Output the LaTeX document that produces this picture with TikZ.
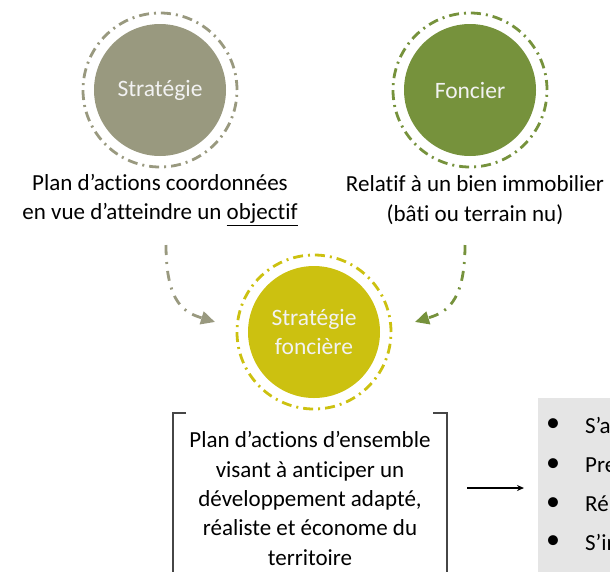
\documentclass[tikz,border=0pt]{standalone}
\usepackage{fontspec}
\setmainfont{Carlito}[Ligatures=NoCommon]
\usepackage{tikz}
\usetikzlibrary{arrows.meta}
\definecolor{stratgray}{RGB}{153,153,127}
\definecolor{foncgreen}{RGB}{118,146,60}
\definecolor{sfyellow}{RGB}{204,193,16}
\definecolor{panelgray}{RGB}{229,229,229}
\definecolor{bracketgray}{RGB}{70,70,70}
\tikzset{
    disc/.style={shape=circle, minimum size=132pt, inner sep=0pt, text=white!95!black, align=center,
        font=\fontsize{23.5}{29.5}\selectfont},
    ring/.style={line width=2.8pt, dash pattern=on 10pt off 5pt on 2pt off 5pt},
    curvearrow/.style={line width=2.8pt, dash pattern=on 10pt off 7pt on 2pt off 7pt,
        -{Triangle[length=14pt,width=13pt]}},
    bigtext/.style={align=center, font=\fontsize{23}{29.5}\selectfont},
    blackarrow/.style={-{Stealth[length=7pt,width=6pt]}, line width=1.4pt}
}

\begin{document}
\begin{tikzpicture}[x=1pt,y=-1pt, font=\fontsize{23}{29.5}\selectfont]
    \useasboundingbox (0,0) rectangle (610,571);

    \node[disc, fill=stratgray] (strat) at (160,90) {Stratégie};
    \draw[ring, stratgray] (strat.center) circle[radius=77pt];
    \node[bigtext] (stratdef) at (160,200) {Plan d’actions coordonnées\\en vue d’atteindre un \underline{objectif}};

    \node[disc, fill=foncgreen] (fonc) at (470,90) {Foncier};
    \draw[ring, foncgreen] (fonc.center) circle[radius=77pt];
    \node[bigtext] (foncdef) at (475,200) {Relatif à un bien immobilier\\(bâti ou terrain nu)};

    \node[disc, fill=sfyellow] (sf) at (314,332) {Stratégie\\foncière};
    \draw[ring, sfyellow] (sf.center) circle[radius=77pt];

    \coordinate (lstart) at (166,245);
    \coordinate (lend) at (215,322);
    \coordinate (rstart) at (465,245);
    \coordinate (rend) at (415,322);
    \draw [curvearrow, stratgray] (lstart) .. controls (166,305) and (186,313) .. (lend);
    \draw [curvearrow, foncgreen] (rstart) .. controls (465,305) and (444,313) .. (rend);

    % bracketed definition
    \draw[bracketgray, line width=1.3pt] (186,413) -- (173,413) -- (173,580);
    \draw[bracketgray, line width=1.3pt] (433,413) -- (447,413) -- (447,580);
    \node[bigtext, font=\fontsize{23}{29.3}\selectfont] (sfdef) at (310,498.5) {Plan d’actions d’ensemble\\visant à anticiper un\\développement adapté,\\réaliste et économe du\\territoire};

    \fill[panelgray] (538,398) rectangle (620,580);
    \coordinate (astart) at (467,488);
    \coordinate (aend) at (524,488);
    \path [blackarrow] (astart) edge (aend);

    \foreach \y/\t in {425/S’a, 465/Pre, 504/Ré, 542/S’in}{
        \node[font=\fontsize{28}{30}\selectfont] (dot\y) at (553,\y) {\textbullet};
        \node[anchor=west, inner sep=0pt] (item\y) at (585,\y) {\t};
    }
\end{tikzpicture}
\end{document}
